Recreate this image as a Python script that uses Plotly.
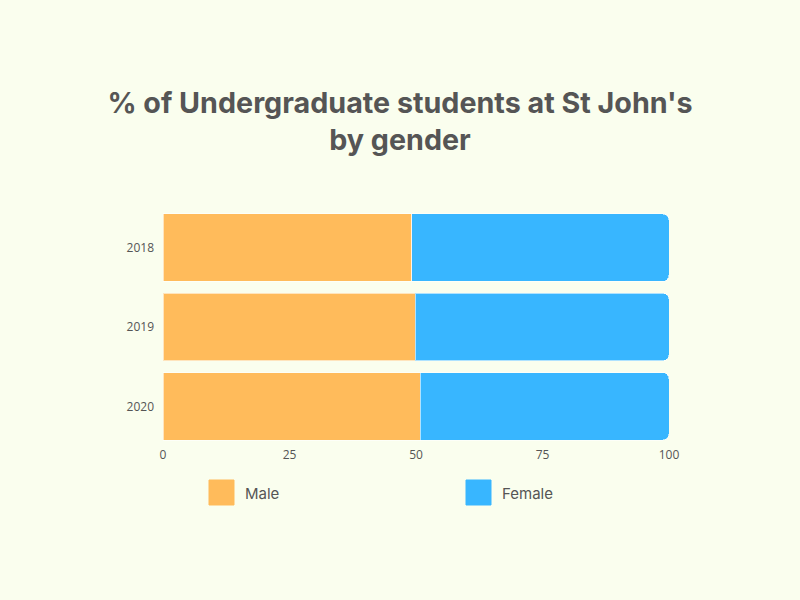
import plotly.graph_objects as go

years = ["2018", "2019", "2020"]
male = [49.2, 49.9, 50.8]
female = [50.8, 50.1, 49.2]
x_ticks = [0, 25, 50, 75, 100]
series_names = ["Male", "Female"]

ORANGE = "#FFBB5B"
BLUE = "#38B6FF"
BG = "#FAFEEE"
TXT = "#555555"

W, H = 800, 600
ML, MR, MT, MB = 163, 131, 208, 154
PW, PH = W - ML - MR, H - MT - MB


def px_x(px):
    return (px - ML) / PW


def px_y(py):
    return (H - MB - py) / PH


fig = go.Figure()
fig.add_trace(go.Bar(y=years, x=male, name=series_names[0], orientation="h",
                     marker=dict(color=ORANGE, line=dict(color="rgba(255,255,255,0.6)", width=1)),
                     showlegend=False))
fig.add_trace(go.Bar(y=years, x=female, name=series_names[1], orientation="h",
                     marker=dict(color=BLUE, line=dict(color="rgba(255,255,255,0.6)", width=1)),
                     showlegend=False))

# custom legend (large swatches) placed below the axis
legend_items = [(series_names[0], ORANGE, 209), (series_names[1], BLUE, 466)]
for name, col, lx in legend_items:
    fig.add_shape(type="rect", xref="paper", yref="paper",
                  x0=px_x(lx), x1=px_x(lx + 25), y0=px_y(505), y1=px_y(480),
                  fillcolor=col, line=dict(color=col, width=1), layer="above")
    fig.add_annotation(text=name, x=px_x(lx + 34), y=px_y(493),
                       xref="paper", yref="paper", xanchor="left", yanchor="middle",
                       showarrow=False, font=dict(family="Inter", size=15, color=TXT))

fig.update_layout(
    width=W, height=H,
    paper_bgcolor=BG, plot_bgcolor=BG,
    barmode="stack", bargap=0.15, barcornerradius=6,
    margin=dict(l=ML, r=MR, t=MT, b=MB),
    title=dict(text="% of Undergraduate students at St John's<br>by gender",
               x=0.5, xanchor="center", y=1 - 113 / 600, yanchor="top", yref="container",
               font=dict(family="Inter", size=28.7, color=TXT, weight="bold")),
    font=dict(family="Open Sans", color=TXT),
)
fig.update_xaxes(range=[0, 100], tickvals=x_ticks, showgrid=False, zeroline=False,
                 showline=False, ticks="", tickfont=dict(size=12, color=TXT, family="Open Sans"),
                 fixedrange=True)
fig.update_yaxes(autorange="reversed", showgrid=False, zeroline=False, showline=False,
                 ticks="", ticklabelstandoff=8,
                 tickfont=dict(size=12, color=TXT, family="Open Sans"))

fig.write_html("out.html", config={"displayModeBar": False},
               post_script="document.body.style.margin='0';")
